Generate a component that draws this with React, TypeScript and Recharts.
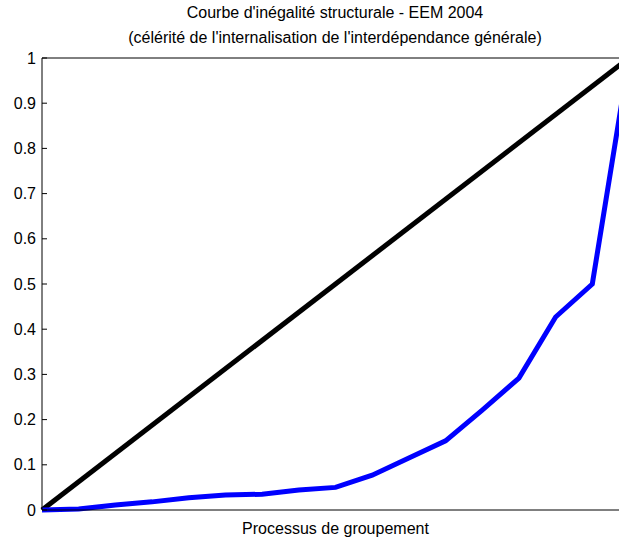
import { LineChart, Line, XAxis, YAxis, ReferenceLine } from 'recharts';

const groupSteps = [0, 1, 2, 3, 4, 5, 6, 7, 8, 9, 10, 11, 12, 13, 14, 15, 16];
const inequalityValues = [0, 0.002, 0.011, 0.018, 0.027, 0.033, 0.035, 0.044, 0.05, 0.077, 0.115, 0.153, 0.221, 0.292, 0.427, 0.5, 1.0];
const equalityLine = [{ step: 0, value: 0 }, { step: 16, value: 1 }];
const yTicks = [0, 0.1, 0.2, 0.3, 0.4, 0.5, 0.6, 0.7, 0.8, 0.9, 1];

const curveData = groupSteps.map((step, i) => ({ step, value: inequalityValues[i] }));

const font = '"Liberation Sans", Arial, sans-serif';

const YTick = ({ x, y, payload }: any) => (
  <g>
    <line x1={x + 8} x2={x + 13} y1={y} y2={y} stroke="#000" strokeWidth={1} />
    <text x={x + 2} y={y} dy={5.5} textAnchor="end" fontSize={16} fontFamily={font} fill="#000">
      {String(payload.value)}
    </text>
  </g>
);

export default function App() {
  return (
    <div style={{ position: 'absolute', left: 0, top: 0, width: 619, height: 537, overflow: 'hidden', background: '#fff', fontFamily: font }}>
      <div style={{ position: 'absolute', left: 0, width: 670, top: 3, textAlign: 'center', fontSize: 16, lineHeight: '19px', color: '#000' }}>
        <div>Courbe d'inégalité structurale - EEM 2004</div>
        <div style={{ marginTop: 6 }}>(célérité de l'internalisation de l'interdépendance générale)</div>
      </div>
      <LineChart width={660} height={537} data={curveData} margin={{ top: 58, right: 31, bottom: 0, left: 0 }}>
        <XAxis
          dataKey="step"
          type="number"
          domain={[0, 16]}
          ticks={[]}
          tick={false}
          tickLine={false}
          height={27}
          axisLine={{ stroke: '#000', strokeWidth: 1 }}
          label={{ value: 'Processus de groupement', position: 'insideBottom', offset: 3, fontSize: 16, fill: '#000', fontFamily: font }}
        />
        <YAxis
          type="number"
          domain={[0, 1]}
          ticks={yTicks}
          width={42}
          tickSize={0}
          tickMargin={8}
          tickLine={false}
          axisLine={{ stroke: '#000', strokeWidth: 1 }}
          tick={<YTick />}
          interval={0}
        />
        <ReferenceLine y={1} stroke="#000" strokeWidth={1} ifOverflow="visible" />
        <ReferenceLine x={16} stroke="#000" strokeWidth={1} ifOverflow="visible" />
        <Line
          data={equalityLine}
          dataKey="value"
          type="linear"
          stroke="#000"
          strokeWidth={5}
          dot={false}
          isAnimationActive={false}
        />
        <Line
          dataKey="value"
          type="linear"
          stroke="#0000ff"
          strokeWidth={5}
          dot={false}
          isAnimationActive={false}
        />
      </LineChart>
    </div>
  );
}
